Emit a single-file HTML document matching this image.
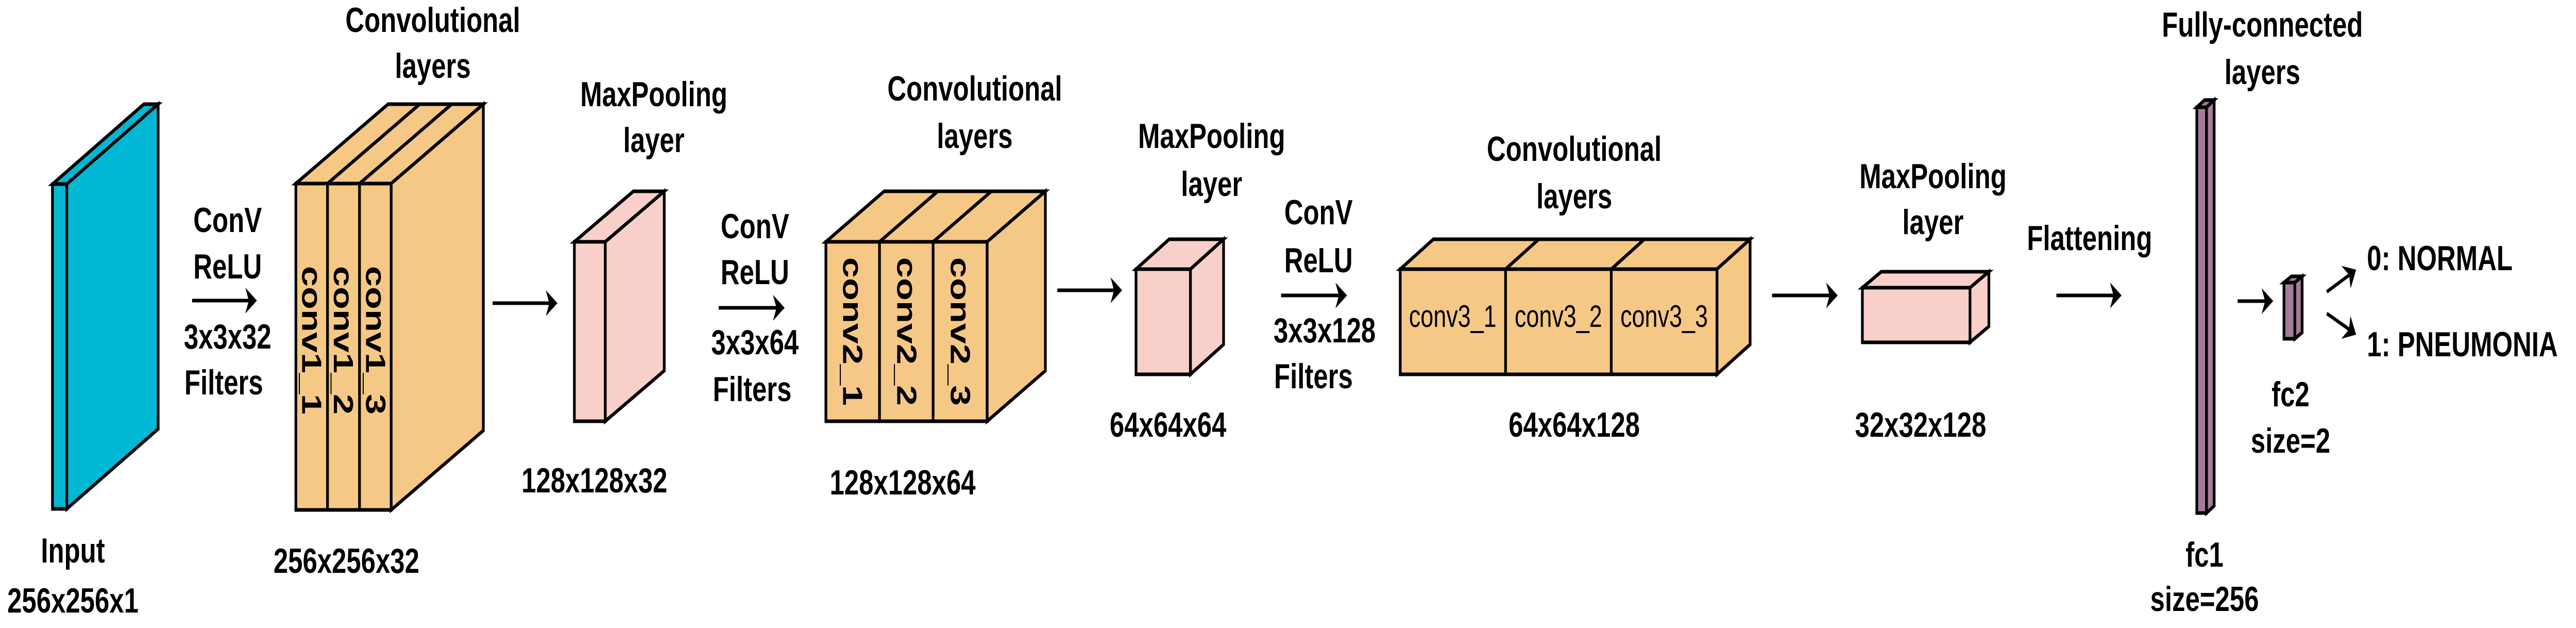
<!DOCTYPE html>
<html><head><meta charset="utf-8"><style>
html,body{margin:0;padding:0;background:#fff;width:100%;height:100%;overflow:hidden;}
svg{display:block;position:absolute;left:0;top:0;width:100vw;height:100vh;}
text{font-family:"Liberation Sans",Arial,sans-serif;font-weight:bold;fill:#000;}
</style></head><body>
<svg viewBox="0 0 6678 1218" preserveAspectRatio="none" xmlns="http://www.w3.org/2000/svg">
<g stroke="#000" stroke-width="7" stroke-linejoin="miter">
<polygon points="136,357 373,202 410,202 173,357" fill="#00B8D4"/>
<polygon points="173,357 410,202 410,832 173,987" fill="#00B8D4"/>
<rect x="136" y="357" width="37" height="630" fill="#00B8D4"/>
<polygon points="767,356 1006,202 1253,202 1014,356" fill="#F6C886"/>
<polygon points="1014,356 1253,202 1253,835 1014,989" fill="#F6C886"/>
<rect x="767" y="356" width="247" height="633" fill="#F6C886"/>
<line x1="849" y1="356" x2="849" y2="989"/><line x1="932" y1="356" x2="932" y2="989"/>
<line x1="849" y1="356" x2="1088" y2="202"/><line x1="932" y1="356" x2="1171" y2="202"/>
<polygon points="1489,469 1642,371 1722,371 1569,469" fill="#F9D0C9"/>
<polygon points="1569,469 1722,371 1722,719 1569,817" fill="#F9D0C9"/>
<rect x="1489" y="469" width="80" height="348" fill="#F9D0C9"/>
<polygon points="2141,469 2292,371 2710,371 2559,469" fill="#F6C886"/>
<polygon points="2559,469 2710,371 2710,719 2559,817" fill="#F6C886"/>
<rect x="2141" y="469" width="418" height="348" fill="#F6C886"/>
<line x1="2280" y1="469" x2="2280" y2="817"/><line x1="2419" y1="469" x2="2419" y2="817"/>
<line x1="2280" y1="469" x2="2431" y2="371"/><line x1="2419" y1="469" x2="2570" y2="371"/>
<polygon points="2945,522 3031,464 3172,464 3086,522" fill="#F9D0C9"/>
<polygon points="3086,522 3172,464 3172,668 3086,726" fill="#F9D0C9"/>
<rect x="2945" y="522" width="141" height="204" fill="#F9D0C9"/>
<polygon points="3630,522 3716,464 4537,464 4451,522" fill="#F6C886"/>
<polygon points="4451,522 4537,464 4537,668 4451,726" fill="#F6C886"/>
<rect x="3630" y="522" width="821" height="204" fill="#F6C886"/>
<line x1="3903" y1="522" x2="3903" y2="726"/><line x1="4177" y1="522" x2="4177" y2="726"/>
<line x1="3903" y1="522" x2="3989" y2="464"/><line x1="4177" y1="522" x2="4263" y2="464"/>
<polygon points="4828,558 4877,527 5156,527 5107,558" fill="#F9D0C9"/>
<polygon points="5107,558 5156,527 5156,633 5107,664" fill="#F9D0C9"/>
<rect x="4828" y="558" width="279" height="106" fill="#F9D0C9"/>
<polygon points="5695,208 5715,194 5740,194 5720,208" fill="#A47C9A"/>
<polygon points="5720,208 5740,194 5740,981 5720,995" fill="#A47C9A"/>
<rect x="5695" y="208" width="25" height="787" fill="#A47C9A"/>
<polygon points="5921,548 5940,536 5968,536 5949,548" fill="#A47C9A"/>
<polygon points="5949,548 5968,536 5968,645 5949,657" fill="#A47C9A"/>
<rect x="5921" y="548" width="28" height="109" fill="#A47C9A"/>
</g>
<g stroke="#000" stroke-width="7" fill="none">
<line x1="498" y1="583" x2="650" y2="583"/>
<line x1="1277" y1="588" x2="1430" y2="588"/>
<line x1="1863" y1="597" x2="2018" y2="597"/>
<line x1="2741" y1="563" x2="2893" y2="563"/>
<line x1="3321" y1="573" x2="3476" y2="573"/>
<line x1="4594" y1="573" x2="4748" y2="573"/>
<line x1="5331" y1="573" x2="5484" y2="573"/>
<line x1="5801" y1="584" x2="5877" y2="584"/>
<line x1="6032" y1="566" x2="6098" y2="529"/>
<line x1="6032" y1="608" x2="6098" y2="643"/>
</g>
<g fill="#000">
<path d="M666,583 L636,558 L645,583 L636,608 Z"/>
<path d="M1445,588 L1415,563 L1424,588 L1415,613 Z"/>
<path d="M2034,597 L2004,572 L2013,597 L2004,622 Z"/>
<path d="M2909,563 L2879,538 L2888,563 L2879,588 Z"/>
<path d="M3492,573 L3462,548 L3471,573 L3462,598 Z"/>
<path d="M4764,573 L4734,548 L4743,573 L4734,598 Z"/>
<path d="M5500,573 L5470,548 L5479,573 L5470,598 Z"/>
<path d="M5893,584 L5863,559 L5872,584 L5863,609 Z"/>
<g transform="translate(6108,523) rotate(-29)"><path d="M0,0 L-30,-25 L-21,0 L-30,25 Z"/></g>
<g transform="translate(6108,649) rotate(28)"><path d="M0,0 L-30,-25 L-21,0 L-30,25 Z"/></g>
</g>
<g font-size="68" text-anchor="middle" dominant-baseline="central">
<text x="189" y="1068">Input</text>
<text x="189" y="1165">256x256x1</text>
<text x="1122" y="39">Convolutional</text>
<text x="1122" y="128">layers</text>
<text x="898" y="1088">256x256x32</text>
<text x="590" y="427">ConV</text>
<text x="590" y="517">ReLU</text>
<text x="590" y="653">3x3x32</text>
<text x="580" y="742">Filters</text>
<text x="1695" y="183">MaxPooling</text>
<text x="1695" y="272">layer</text>
<text x="1541" y="932">128x128x32</text>
<text x="1957" y="439">ConV</text>
<text x="1957" y="528">ReLU</text>
<text x="1957" y="664">3x3x64</text>
<text x="1950" y="755">Filters</text>
<text x="2527" y="172">Convolutional</text>
<text x="2527" y="264">layers</text>
<text x="2340" y="936">128x128x64</text>
<text x="3141" y="264">MaxPooling</text>
<text x="3141" y="357">layer</text>
<text x="3028" y="824">64x64x64</text>
<text x="3418" y="412">ConV</text>
<text x="3418" y="505">ReLU</text>
<text x="3434" y="641">3x3x128</text>
<text x="3405" y="730">Filters</text>
<text x="4081" y="289">Convolutional</text>
<text x="4081" y="381">layers</text>
<text x="4081" y="824">64x64x128</text>
<text x="5011" y="342">MaxPooling</text>
<text x="5011" y="431">layer</text>
<text x="4979" y="824">32x32x128</text>
<text x="5417" y="462">Flattening</text>
<text x="5865" y="48">Fully-connected</text>
<text x="5865" y="140">layers</text>
<text x="5715" y="1076">fc1</text>
<text x="5715" y="1162">size=256</text>
<text x="5938" y="765">fc2</text>
<text x="5938" y="855">size=2</text>
<text x="6136" y="501" text-anchor="start">0: NORMAL</text>
<text x="6136" y="668" text-anchor="start">1: PNEUMONIA</text>
</g>
<g font-size="72" text-anchor="middle" dominant-baseline="central">
<text transform="translate(808,660) rotate(90)">conv1_1</text>
<text transform="translate(890,660) rotate(90)">conv1_2</text>
<text transform="translate(973,660) rotate(90)">conv1_3</text>
<text transform="translate(2210,643) rotate(90)">conv2_1</text>
<text transform="translate(2350,643) rotate(90)">conv2_2</text>
<text transform="translate(2489,643) rotate(90)">conv2_3</text>
</g>
<g font-size="60" text-anchor="middle" dominant-baseline="central">
<text x="3766" y="614" style="font-weight:normal">conv3_1</text>
<text x="4040" y="614" style="font-weight:normal">conv3_2</text>
<text x="4314" y="614" style="font-weight:normal">conv3_3</text>
</g>
</svg>
</body></html>
